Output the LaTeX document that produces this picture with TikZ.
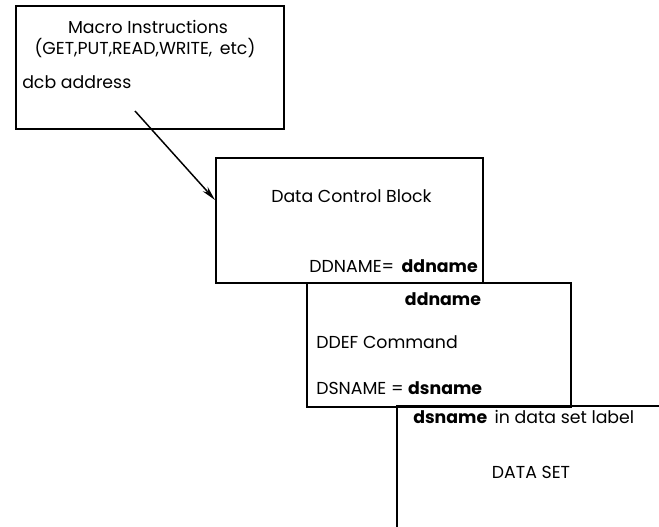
\documentclass[tikz,border=0pt]{standalone}
\usepackage{fontspec}
\setmainfont{Poppins}
\usetikzlibrary{arrows.meta}

\begin{document}
\begin{tikzpicture}[x=0.75pt, y=-0.75pt,
	every node/.style={font=\fontsize{13}{15}\selectfont, inner sep=0pt},
	blk/.style={rectangle, draw, line width=1.2pt, anchor=north west},
	txt/.style={anchor=base west},
	arr/.style={-{Stealth[length=11pt, width=5pt]}, line width=1.1pt}
	]
\useasboundingbox (0,0) rectangle (659,527);

% the boxes
\node[blk, minimum width=201pt, minimum height=92.25pt] (macro) at (15,5) {};
\node[blk, minimum width=200.25pt, minimum height=93.75pt] (dcb) at (215,157) {};
\node[blk, minimum width=198pt, minimum height=93pt] (ddef) at (306,282) {};
\node[anchor=north west, minimum width=197pt, minimum height=92pt] (dset) at (397,406) {};
\draw[line width=1.2pt] (dset.south west) -- (dset.north west) -- (dset.north east);

% texts
\node[anchor=base] (mac1) at (148,34) {Macro Instructions};
\node[anchor=base] (mac2) at (145,55) {(GET,PUT,READ,WRITE,\, etc)};
\node[txt] (dcbaddr) at (22,89) {dcb address};
\node[txt] (dcbname) at (271,203) {Data Control Block};
\node[anchor=base east] (ddn1) at (478,272) {DDNAME=\, \textbf{ddname}};
\node[anchor=base] (ddn2) at (443,305) {\textbf{ddname}};
\node[txt] (ddefcmd) at (316,348) {DDEF Command};
\node[txt] (dsn1) at (316,394) {DSNAME = \textbf{dsname}};
\node[txt] (dsn2) at (413,423) {\textbf{dsname}\, in data set label};
\node[anchor=base] (dsname) at (531,478) {DATA SET};

% pointer from the macro to the dcb
\coordinate (tail) at (135,111);
\coordinate (tip) at (dcb.west |- 0,200);
\draw[arr] (tail) -- (tip);

\end{tikzpicture}
\end{document}
